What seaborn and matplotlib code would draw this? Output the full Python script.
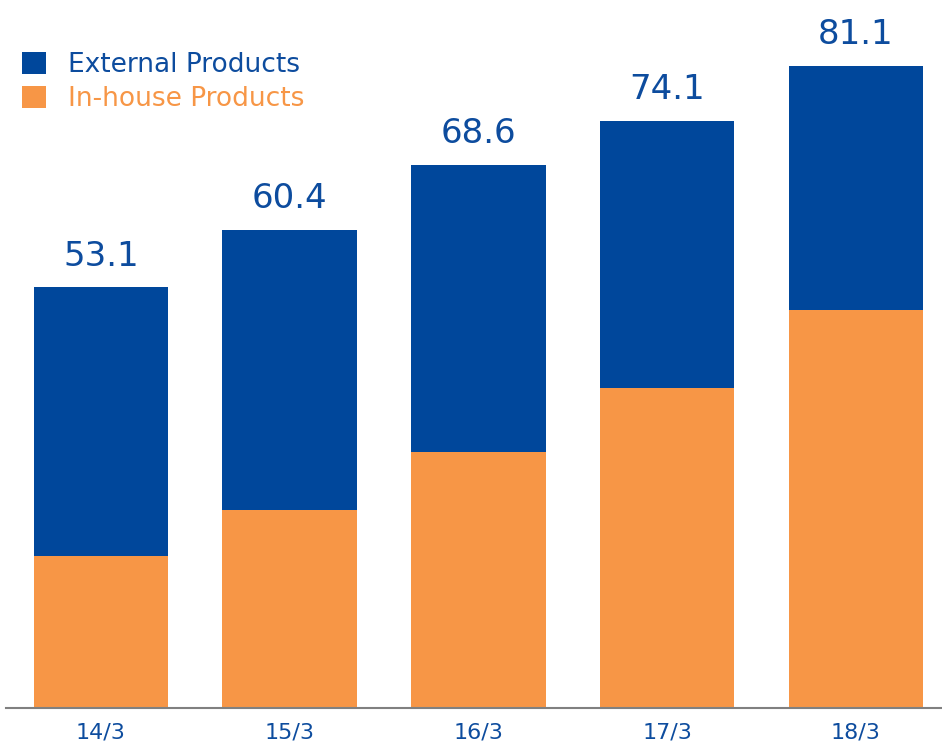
import matplotlib
matplotlib.use("Agg")
import matplotlib.pyplot as plt
import pandas as pd
import seaborn as sns

# Fiscal periods and sales (stacked: in-house at the bottom, external on top)
periods = ["14/3", "15/3", "16/3", "17/3", "18/3"]
totals = [53.1, 60.4, 68.6, 74.1, 81.1]
in_house = [19.2, 25.0, 32.3, 40.4, 50.2]

BLUE = "#00479b"
ORANGE = "#f79646"
TEXT_BLUE = "#0d4c9e"
AXIS_GRAY = "#808080"

sns.set_theme(style="white")
plt.rcParams["font.family"] = ["DejaVu Sans"]

df = pd.DataFrame({"period": periods, "total": totals, "in_house": in_house})

W, H = 942, 749
fig = plt.figure(figsize=(W / 100, H / 100), dpi=100)
ax = fig.add_axes([6 / W, (H - 708) / H, 936 / W, 708 / H])

bar_w = 0.712
sns.barplot(data=df, x="period", y="total", color=BLUE, saturation=1,
            width=bar_w, linewidth=0, label="External Products", ax=ax)
sns.barplot(data=df, x="period", y="in_house", color=ORANGE, saturation=1,
            width=bar_w, linewidth=0, label="In-house Products", ax=ax)

ax.set_xlim(-0.502, 4.456)
ax.set_ylim(0, 708 / 7.92)

# Total value above each bar
for i, v in enumerate(totals):
    ax.annotate(f"{v:.1f}", xy=(i, v), xytext=(0, 15.8), textcoords="offset points",
                ha="center", va="baseline", fontsize=24.5, color=TEXT_BLUE)

for side in ["left", "right", "top"]:
    ax.spines[side].set_visible(False)
ax.spines["bottom"].set_color(AXIS_GRAY)
ax.spines["bottom"].set_linewidth(1.5)
ax.set_yticks([])
ax.set_xlabel("")
ax.set_ylabel("")
ax.tick_params(axis="x", length=0, pad=10.5, labelsize=16, labelcolor=TEXT_BLUE)

handles, labels = ax.get_legend_handles_labels()
fs = 19
px = fs * 100 / 72
ax.legend(handles=handles, labels=labels, loc="upper left",
          bbox_to_anchor=(22 / W, 1 - 52 / H), bbox_transform=fig.transFigure,
          frameon=False, borderpad=0, borderaxespad=0,
          handlelength=24 / px, handleheight=24 / px, handletextpad=22 / px,
          labelspacing=0.3, fontsize=fs, labelcolor=[TEXT_BLUE, ORANGE])

fig.savefig("out.png", dpi=100)
